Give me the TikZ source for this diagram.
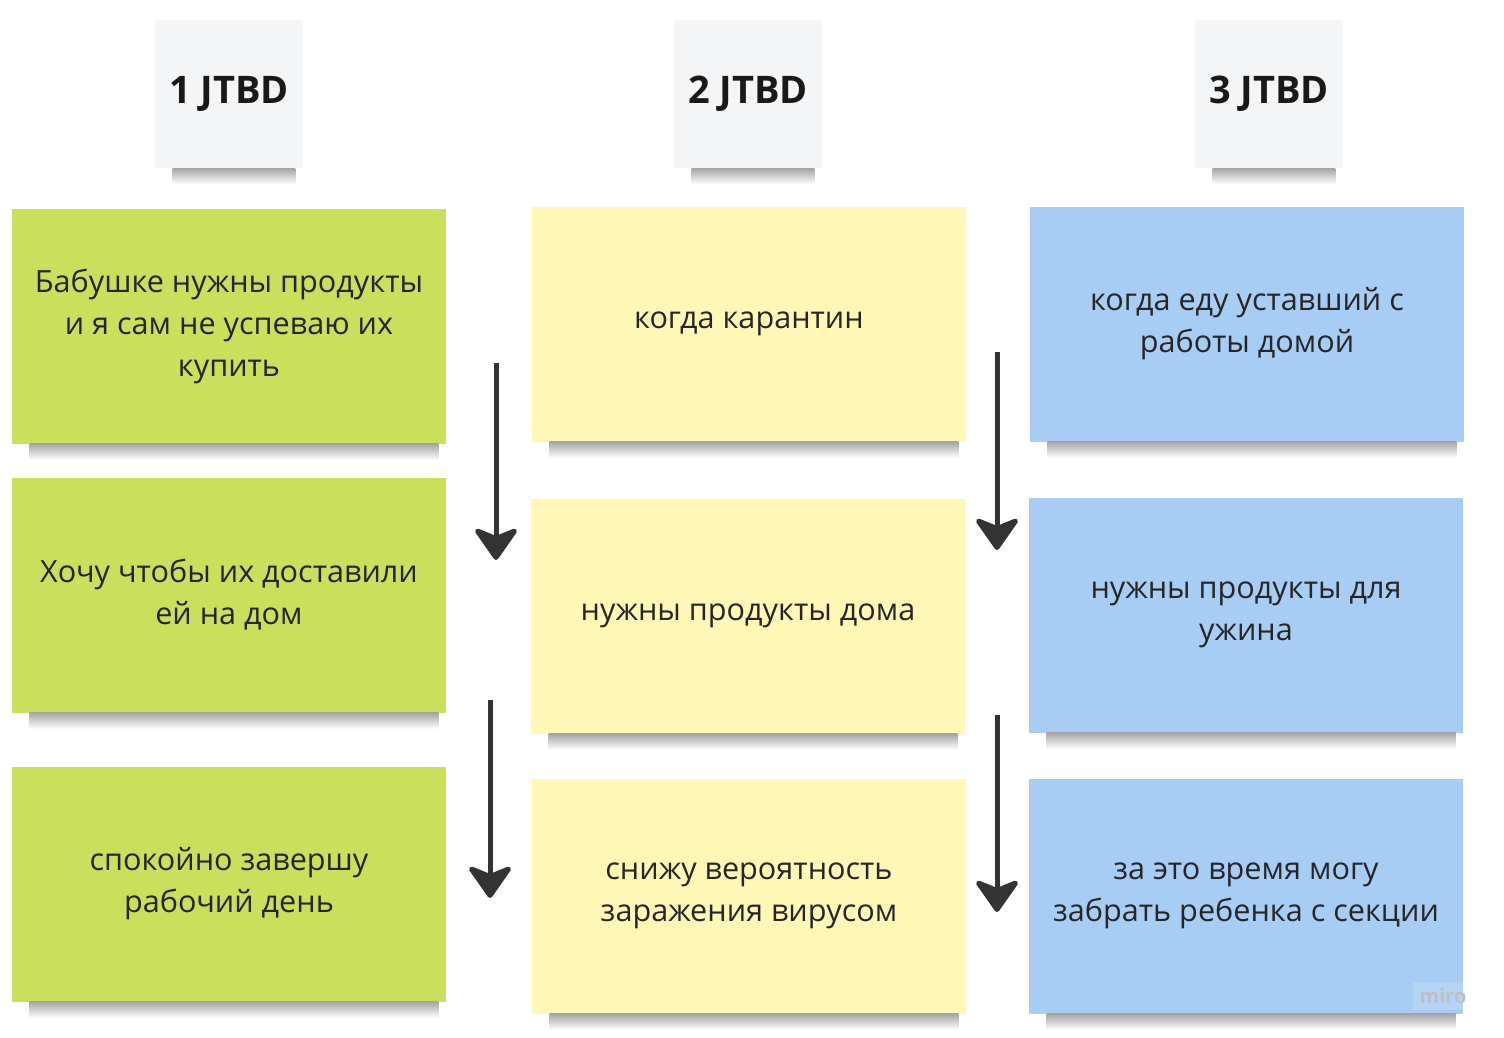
\documentclass[tikz,border=0pt]{standalone}
\usepackage{fontspec}
\setmainfont{Open Sans}
\usetikzlibrary{positioning,calc,arrows.meta}

\definecolor{grn}{HTML}{CADF5C}
\definecolor{ylw}{HTML}{FFF7B5}
\definecolor{blu}{HTML}{A8CDF4}
\definecolor{hdr}{HTML}{F4F5F7}
\definecolor{ink}{HTML}{333333}

\begin{document}
\begin{tikzpicture}[x=0.5pt, y=-0.5pt,
    note/.style={minimum width=217pt, minimum height=117.5pt, align=center, inner sep=0pt, font=\fontsize{15.3}{21}\selectfont, text=black!85},
    head/.style={fill=hdr, minimum width=74pt, minimum height=74pt, inner sep=0pt, font=\fontsize{19}{22}\selectfont\bfseries, text=black!90},
    flow/.style={-{Stealth[length=18pt, width=25pt, inset=5pt, round]}, line width=2.5pt, ink}
]
    \useasboundingbox (0,0) rectangle (1504,1038);

    % Headers
    \node[head] (h1) at (229,94) {1 JTBD};
    \node[head] (h2) at (748,94) {2 JTBD};
    \node[head] (h3) at (1269,94) {3 JTBD};

    % Column 1
    \node[note, fill=grn] (g1) at (229,326) {Бабушке нужны продукты\\и я сам не успеваю их\\купить};
    \node[note, fill=grn] (g2) at (229,595) {Хочу чтобы их доставили\\ей на дом};
    \node[note, fill=grn] (g3) at (229,884) {спокойно завершу\\рабочий день};

    % Column 2
    \node[note, fill=ylw] (y1) at (749,324) {когда карантин};
    \node[note, fill=ylw] (y2) at (748,616) {нужны продукты дома};
    \node[note, fill=ylw] (y3) at (749,896) {снижу вероятность\\заражения вирусом};

    % Column 3
    \node[note, fill=blu] (b1) at (1247,324) {когда еду уставший с\\работы домой};
    \node[note, fill=blu] (b2) at (1246,615) {нужны продукты для\\ужина};
    \node[note, fill=blu] (b3) at (1246,896) {за это время могу\\забрать ребенка с секции};

    % Shadows
    \foreach \n in {h1,h2,h3,g1,g2,g3,y1,y2,y3,b1,b2,b3} {
        \shade[top color=black!35, bottom color=white]
            ($(\n.south west)+(18,0)$) rectangle ($(\n.south east)+(-8,16)$);
    }

    % Arrows
    \coordinate (a1t) at (496,363);
    \coordinate (a1b) at (496,560);
    \coordinate (a2t) at (490,700);
    \coordinate (a2b) at (490,898);
    \coordinate (a3t) at (997,352);
    \coordinate (a3b) at (997,550);
    \coordinate (a4t) at (997,715);
    \coordinate (a4b) at (997,912);

    \draw[flow] (a1t) -- (a1b);
    \draw[flow] (a2t) -- (a2b);
    \draw[flow] (a3t) -- (a3b);
    \draw[flow] (a4t) -- (a4b);

    \node[fill=white, fill opacity=0.15, text opacity=1, text=black!25, font=\fontsize{10}{12}\selectfont\bfseries] (wm) at (1443,996) {miro};
\end{tikzpicture}
\end{document}
